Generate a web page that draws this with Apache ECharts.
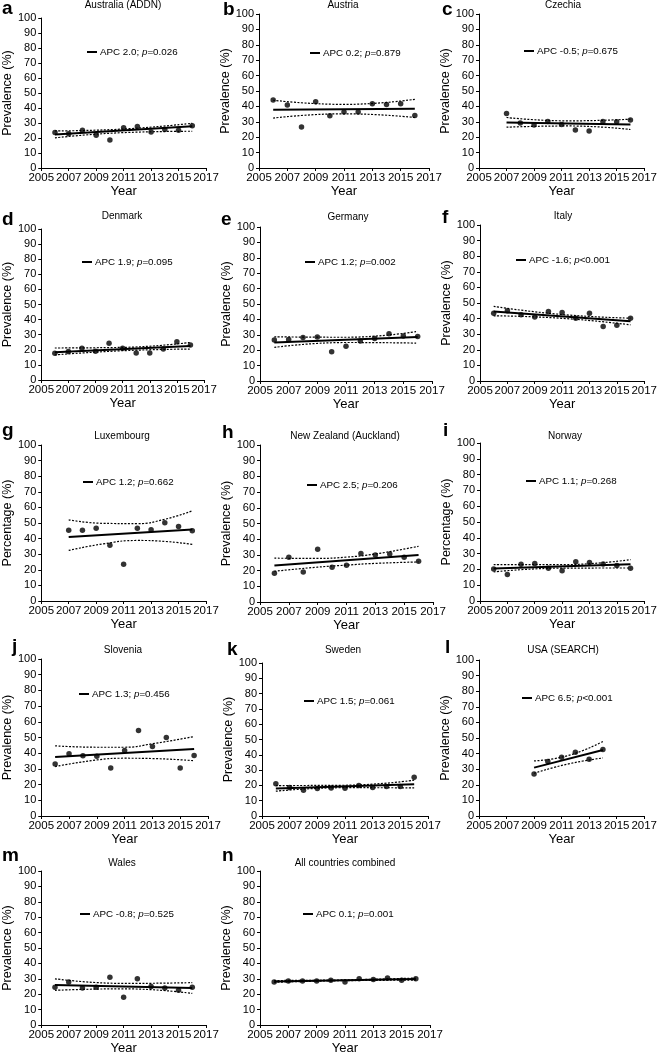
<!DOCTYPE html>
<html><head><meta charset="utf-8">
<script src="https://cdn.jsdelivr.net/npm/echarts@6/dist/echarts.min.js"></script>
<style>html,body{margin:0;padding:0;background:#fff}#c{width:660px;height:1057px}</style>
</head><body><div id="c"></div>
<script>
// ---------- DATA ----------
const years = [2006, 2007, 2008, 2009, 2010, 2011, 2012, 2013, 2014, 2015, 2016];
const years2007 = [2007, 2008, 2009, 2010, 2011, 2012, 2013, 2014, 2015, 2016];
const yearsUSA = [2009, 2010, 2011, 2012, 2013, 2014];
const xTickStart = 2005;
const xTickEnd = 2017;

const panelLetters = ['a','b','c','d','e','f','g','h','i','j','k','l','m','n'];
const panelTitles = ['Australia (ADDN)','Austria','Czechia','Denmark','Germany','Italy','Luxembourg',
  'New Zealand (Auckland)','Norway','Slovenia','Sweden','USA (SEARCH)','Wales','All countries combined'];
const yAxisNames = ['Prevalence (%)','Prevalence (%)','Prevalence (%)','Prevalence (%)','Prevalence (%)','Prevalence (%)',
  'Percentage (%)','Prevalence (%)','Percentage (%)','Prevalence (%)','Prevalence (%)','Prevalence (%)','Prevalence (%)','Prevalence (%)'];
const apcLabels = ['APC 2.0; p=0.026','APC 0.2; p=0.879','APC -0.5; p=0.675','APC 1.9; p=0.095','APC 1.2; p=0.002',
  'APC -1.6; p<0.001','APC 1.2; p=0.662','APC 2.5; p=0.206','APC 1.1; p=0.268','APC 1.3; p=0.456',
  'APC 1.5; p=0.061','APC 6.5; p<0.001','APC -0.8; p=0.525','APC 0.1; p=0.001'];

const australia = [23.6, 22.9, 25.1, 21.8, 18.7, 26.9, 27.6, 24.0, 25.6, 25.1, 28.2];
const australiaFit = [[2006, 22.3], [2016, 27.8]];
const australiaUpper = [[2006, 24.7], [2011, 26.0], [2016, 29.8]];
const australiaLower = [[2006, 20.1], [2011, 23.6], [2016, 24.5]];

const austria = [44.1, 40.9, 26.7, 43.0, 33.9, 36.3, 36.3, 41.7, 41.3, 41.7, 34.1];
const austriaFit = [[2006, 37.8], [2016, 38.5]];
const austriaUpper = [[2006, 44.0], [2011, 41.3], [2016, 44.6]];
const austriaLower = [[2006, 32.4], [2011, 35.2], [2016, 32.8]];

const czechia = [35.4, 29.3, 28.0, 30.2, 28.3, 24.6, 24.1, 30.2, 30.0, 31.1];
const czechiaFit = [[2007, 29.6], [2016, 28.3]];
const czechiaUpper = [[2007, 32.8], [2011.5, 30.6], [2016, 31.7]];
const czechiaLower = [[2007, 26.5], [2011.5, 27.3], [2016, 25.0]];

const denmark = [17.7, 18.8, 21.0, 19.0, 24.3, 21.0, 17.9, 17.9, 20.5, 25.4, 23.2];
const denmarkFit = [[2006, 18.4], [2016, 22.5]];
const denmarkUpper = [[2006, 21.2], [2011, 21.6], [2016, 24.9]];
const denmarkLower = [[2006, 16.6], [2011, 19.4], [2016, 20.5]];

const germany = [26.6, 27.0, 28.3, 28.5, 19.0, 22.5, 25.9, 27.6, 30.7, 29.2, 28.9];
const germanyFit = [[2006, 25.0], [2016, 28.5]];
const germanyUpper = [[2006, 28.7], [2011, 28.4], [2016, 32.2]];
const germanyLower = [[2006, 21.8], [2011, 25.0], [2016, 24.6]];

const italy = [43.5, 45.0, 42.4, 41.1, 44.5, 43.9, 40.3, 43.5, 34.9, 35.8, 40.3];
const italyFit = [[2006, 44.5], [2016, 38.3]];
const italyUpper = [[2006, 47.8], [2011, 42.6], [2016, 40.3]];
const italyLower = [[2006, 41.8], [2011, 40.2], [2016, 36.0]];

const luxembourg = [45.4, 45.4, 46.7, 35.8, 23.5, 46.7, 45.6, 50.1, 47.8, 45.0];
const luxembourgFit = [[2007, 41.0], [2016, 45.8]];
const luxembourgUpper = [[2007, 52.0], [2009.5, 49.8], [2012, 49.6], [2014, 52.4], [2016, 57.8]];
const luxembourgLower = [[2007, 32.4], [2009.5, 36.6], [2012, 38.8], [2014, 38.2], [2016, 36.3]];

const newZealand = [18.3, 28.5, 19.1, 33.6, 22.1, 23.4, 30.9, 30.0, 30.6, 28.5, 26.0];
const newZealandFit = [[2006, 23.2], [2016, 30.0]];
const newZealandUpper = [[2006, 27.9], [2009, 27.8], [2011, 28.6], [2013, 30.6], [2016, 35.5]];
const newZealandLower = [[2006, 19.6], [2009, 22.2], [2011, 23.5], [2013, 24.6], [2016, 25.5]];

const norway = [20.3, 16.7, 23.2, 23.8, 20.7, 19.2, 24.9, 24.3, 23.4, 22.4, 20.7];
const norwayFit = [[2006, 20.5], [2016, 23.2]];
const norwayUpper = [[2006, 23.0], [2011, 23.0], [2016, 26.2]];
const norwayLower = [[2006, 18.4], [2011, 20.8], [2016, 20.9]];

const slovenia = [33.2, 39.6, 38.3, 38.1, 30.6, 41.7, 54.5, 44.3, 50.0, 30.6, 38.5];
const sloveniaFit = [[2006, 37.6], [2016, 42.6]];
const sloveniaUpper = [[2006, 44.7], [2009, 43.8], [2011, 43.8], [2013, 46.0], [2016, 50.6]];
const sloveniaLower = [[2006, 31.5], [2009, 35.7], [2011, 36.8], [2013, 36.6], [2016, 35.2]];

const sweden = [21.0, 18.6, 16.8, 17.9, 18.3, 18.1, 19.9, 18.6, 19.2, 19.2, 25.3];
const swedenFit = [[2006, 17.9], [2016, 20.8]];
const swedenUpper = [[2006, 19.9], [2011, 20.1], [2016, 23.4]];
const swedenLower = [[2006, 16.2], [2011, 18.5], [2016, 18.4]];

const usa = [26.9, 35.0, 37.6, 40.8, 36.3, 42.7];
const usaFit = [[2009, 31.0], [2014, 42.3]];
const usaUpper = [[2009, 35.3], [2011.5, 38.8], [2014, 47.8]];
const usaLower = [[2009, 27.4], [2011.5, 33.4], [2014, 37.2]];

const wales = [24.5, 28.0, 24.0, 24.5, 31.0, 18.0, 30.0, 25.0, 24.0, 22.5, 24.5];
const walesFit = [[2006, 26.0], [2016, 24.0]];
const walesUpper = [[2006, 30.0], [2011, 27.0], [2016, 27.5]];
const walesLower = [[2006, 22.5], [2011, 23.5], [2016, 20.5]];

const combined = [28.0, 28.5, 28.5, 28.5, 29.0, 28.0, 30.0, 29.5, 30.5, 29.0, 30.0];
const combinedFit = [[2006, 28.3], [2016, 29.8]];
const combinedUpper = [[2006, 28.9], [2011, 29.3], [2016, 30.5]];
const combinedLower = [[2006, 27.7], [2011, 28.8], [2016, 29.1]];

const panelYears = [years, years, years2007, years, years, years, years2007, years, years, years, years, yearsUSA, years, years];
const panelValues = [australia, austria, czechia, denmark, germany, italy, luxembourg, newZealand, norway, slovenia, sweden, usa, wales, combined];
const panelFits = [australiaFit, austriaFit, czechiaFit, denmarkFit, germanyFit, italyFit, luxembourgFit, newZealandFit, norwayFit, sloveniaFit, swedenFit, usaFit, walesFit, combinedFit];
const panelUppers = [australiaUpper, austriaUpper, czechiaUpper, denmarkUpper, germanyUpper, italyUpper, luxembourgUpper, newZealandUpper, norwayUpper, sloveniaUpper, swedenUpper, usaUpper, walesUpper, combinedUpper];
const panelLowers = [australiaLower, austriaLower, czechiaLower, denmarkLower, germanyLower, italyLower, luxembourgLower, newZealandLower, norwayLower, sloveniaLower, swedenLower, usaLower, walesLower, combinedLower];

// ---------- LAYOUT ----------
const gridBoxes = [
  [38,18,168,150],[259,14,170,154],[479,14,167,154],
  [38,229,166,151],[260,227,172,154],[480,225,166,156],
  [38,445,168,156],[260,445,173,157],[480,443,166,158],
  [38,659,170,157],[262,663,166,153],[479,660,166,156],
  [38,871,168,154],[260,871,170,154]
];
const legendPos = [[87,53],[310,54],[524,52],[82,263],[305,263],[516,261],[83,483],[307,486],[526,482],[79,695],[304,702],[522,699],[80,915],[303,915]];
const titlePos = [[123,5],[343,5],[563,5],[122,216],[348,217],[563,216],[122,436],[345,436],[565,436],[123,650],[343,650],[563,650],[122,863],[345,863]];
const letterPos = [[2,15],[223,16],[442,16],[2,226],[221,226],[442,224],[2,437],[222,439],[443,437],[12,653],[227,656],[445,654],[2,862],[222,862]];

const FONT = "'Liberation Sans', Arial, Helvetica, sans-serif";
const off = v => v - xTickStart;

const grid = [], xAxis = [], yAxis = [], series = [], legend = [], graphic = [];
panelTitles.forEach((t, i) => {
  const [l, tp, w, h] = gridBoxes[i];
  grid.push({ left: l, top: tp, width: w, height: h, containLabel: false });
  xAxis.push({
    gridIndex: i, type: 'value', min: 0, max: xTickEnd - xTickStart, interval: 2,
    axisLine: { show: true, lineStyle: { color: '#000', width: 1 } },
    axisTick: { show: true, length: 3, lineStyle: { color: '#000' } },
    splitLine: { show: false },
    axisLabel: { formatter: v => String(v + xTickStart), color: '#000', fontSize: 11.5, margin: 4, fontFamily: FONT },
    name: 'Year', nameLocation: 'middle', nameGap: 17,
    nameTextStyle: { color: '#000', fontSize: 13, fontFamily: FONT }
  });
  yAxis.push({
    gridIndex: i, type: 'value', min: 0, max: 100, interval: 10,
    axisLine: { show: true, lineStyle: { color: '#000', width: 1 } },
    axisTick: { show: true, length: 3, lineStyle: { color: '#000' } },
    splitLine: { show: false },
    axisLabel: { color: '#000', fontSize: 11, margin: 5, fontFamily: FONT },
    name: yAxisNames[i], nameLocation: 'middle', nameGap: 19,
    nameTextStyle: { color: '#000', fontSize: 12.5, fontFamily: FONT }
  });
  series.push({
    type: 'scatter', xAxisIndex: i, yAxisIndex: i, symbolSize: 5.5, z: 4,
    itemStyle: { color: '#000' },
    data: panelYears[i].map((y, k) => [off(y), panelValues[i][k]])
  });
  series.push({
    type: 'line', name: apcLabels[i], xAxisIndex: i, yAxisIndex: i, symbol: 'none', z: 3,
    lineStyle: { color: '#000', width: 2 }, itemStyle: { color: '#000' },
    data: panelFits[i].map(([y, v]) => [off(y), v])
  });
  [panelUppers[i], panelLowers[i]].forEach(ci => series.push({
    type: 'line', xAxisIndex: i, yAxisIndex: i, symbol: 'none', smooth: true, z: 2,
    lineStyle: { color: '#000', width: 1.2, type: [2, 1.5] },
    data: ci.map(([y, v]) => [off(y), v])
  }));
  legend.push({
    data: [apcLabels[i]], left: legendPos[i][0], top: legendPos[i][1] - 6,
    icon: 'rect', itemWidth: 10, itemHeight: 2, padding: 0, selectedMode: false,
    itemStyle: { color: '#000' },
    formatter: name => { const p = name.split('; p'); return '{n|' + p[0] + '; }{i|p}{n|' + p[1] + '}'; },
    textStyle: { color: '#000', fontSize: 9.8, fontFamily: FONT, padding: [0, 0, 0, -2],
      rich: { n: { fontSize: 9.8, fontFamily: FONT, color: '#000' }, i: { fontSize: 9.8, fontStyle: 'italic', fontFamily: FONT, color: '#000' } } }
  });
  graphic.push({
    type: 'text', x: titlePos[i][0], y: titlePos[i][1],
    style: { text: t, fill: '#000', fontSize: 10, fontFamily: FONT, align: 'center', verticalAlign: 'middle' }
  });
  graphic.push({
    type: 'text', x: letterPos[i][0], y: letterPos[i][1] - 6,
    style: { text: panelLetters[i], fill: '#000', fontSize: 19, fontWeight: 'bold', fontFamily: FONT, align: 'left', verticalAlign: 'middle' }
  });
});

const chart = echarts.init(document.getElementById('c'), null, { renderer: 'canvas' });
chart.setOption({ animation: false, backgroundColor: '#fff', grid, xAxis, yAxis, series, legend, graphic });
</script></body></html>
